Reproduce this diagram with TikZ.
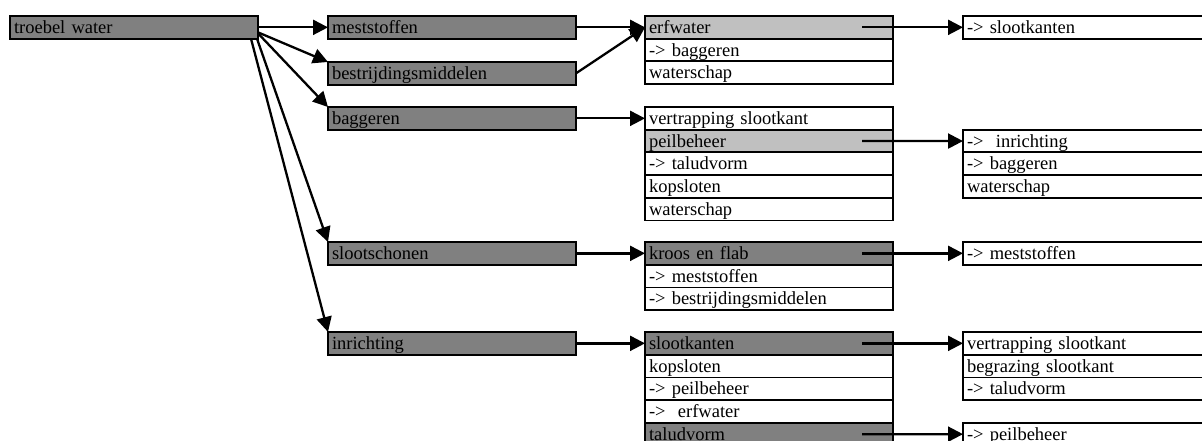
\documentclass[tikz,border=0pt]{standalone}
\usepackage{fontspec}
\setmainfont{Liberation Serif}
\usetikzlibrary{calc,arrows.meta}
\definecolor{darkgrey}{RGB}{128,128,128}
\definecolor{lightgrey}{RGB}{192,192,192}
\tikzset{
  cell/.style={draw, line width=1.8pt, outer sep=0pt, anchor=north west,
    inner xsep=4pt, inner ysep=2.85pt, text width=240pt, align=left,
    text height=14.5pt, text depth=2.5pt, font=\fontsize{18.5}{20}\selectfont},
  darkcell/.style={cell, fill=darkgrey},
  lightcell/.style={cell, fill=lightgrey},
  whitecell/.style={cell, fill=white},
  link/.style={line width=2.3pt, -{Triangle[length=15pt,width=15pt]}}
}

\begin{document}
\begin{tikzpicture}[x=1pt,y=-1pt]
  \useasboundingbox (0,0) rectangle (1202,441);
  % cause
  \node[darkcell] (tw) at (10,16) {troebel water};

  % first level
  \node[darkcell] (mest) at (328,16) {meststoffen};
  \node[darkcell] (bestr) at (328,62) {bestrijdingsmiddelen};
  \node[darkcell] (bagg) at (328,107) {baggeren};
  \node[darkcell] (schoon) at (328,242) {slootschonen};
  \node[darkcell] (inr) at (328,332) {inrichting};

  % second level
  \node[lightcell] (erf) at (645,16) {erfwater};
  \node[whitecell] (erfbag) at (erf.south west) {-> baggeren};
  \node[whitecell] (erfws) at (erfbag.south west) {waterschap};

  \node[whitecell] (vertr) at (645,107) {vertrapping slootkant};
  \node[lightcell] (peil) at (vertr.south west) {peilbeheer};
  \node[whitecell] (talud) at (peil.south west) {-> taludvorm};
  \node[whitecell] (kop) at (talud.south west) {kopsloten};
  \node[whitecell] (baggws) at (kop.south west) {waterschap};

  \node[darkcell] (kroos) at (645,242) {kroos en flab};
  \node[whitecell] (krmest) at (kroos.south west) {-> meststoffen};
  \node[whitecell] (krbestr) at (krmest.south west) {-> bestrijdingsmiddelen};

  \node[darkcell] (kant) at (645,332) {slootkanten};
  \node[whitecell] (inrkop) at (kant.south west) {kopsloten};
  \node[whitecell] (inrpeil) at (inrkop.south west) {-> peilbeheer};
  \node[whitecell] (inrerf) at (inrpeil.south west) {->~ erfwater};
  \node[darkcell] (taludv) at (inrerf.south west) {taludvorm};

  % third level
  \node[whitecell] (erfkant) at (963,16) {-> slootkanten};

  \node[whitecell] (peilinr) at (963,129.7) {->~ inrichting};
  \node[whitecell] (peilbag) at (peilinr.south west) {-> baggeren};
  \node[whitecell] (peilws) at (peilbag.south west) {waterschap};

  \node[whitecell] (kroosmest) at (963,242) {-> meststoffen};

  \node[whitecell] (kantvertr) at (963,332) {vertrapping slootkant};
  \node[whitecell] (kantbegr) at (kantvertr.south west) {begrazing slootkant};
  \node[whitecell] (kanttalud) at (kantbegr.south west) {-> taludvorm};

  \node[whitecell] (taludpeil) at (963,422.8) {-> peilbeheer};

  % links
  \draw[link] (tw.east) -- (mest.west);
  \draw[link] ([yshift=-5pt]tw.east) -- (bestr.north west);
  \draw[link] ([yshift=-6pt]tw.east) -- (bagg.north west);
  \draw[link] ([xshift=-1pt]tw.south east) -- (schoon.north west);
  \draw[link] ([xshift=-7pt]tw.south east) -- (inr.north west);

  \draw[link] (mest.east) -- (erf.west);
  \draw[link] (bestr.east) -- (erf.west);
  \draw[link] (bagg.east) -- (vertr.west);
  \draw[link] (schoon.east) -- (kroos.west);
  \draw[link] (inr.east) -- (kant.west);

  \draw[link] ([xshift=-31pt]erf.east) -- (erfkant.west);
  \draw[link] ([xshift=-31pt]peil.east) -- (peilinr.west);
  \draw[link] ([xshift=-31pt]kroos.east) -- (kroosmest.west);
  \draw[link] ([xshift=-31pt]kant.east) -- (kantvertr.west);
  \draw[link] ([xshift=-31pt]taludv.east) -- (taludpeil.west);
\end{tikzpicture}
\end{document}
